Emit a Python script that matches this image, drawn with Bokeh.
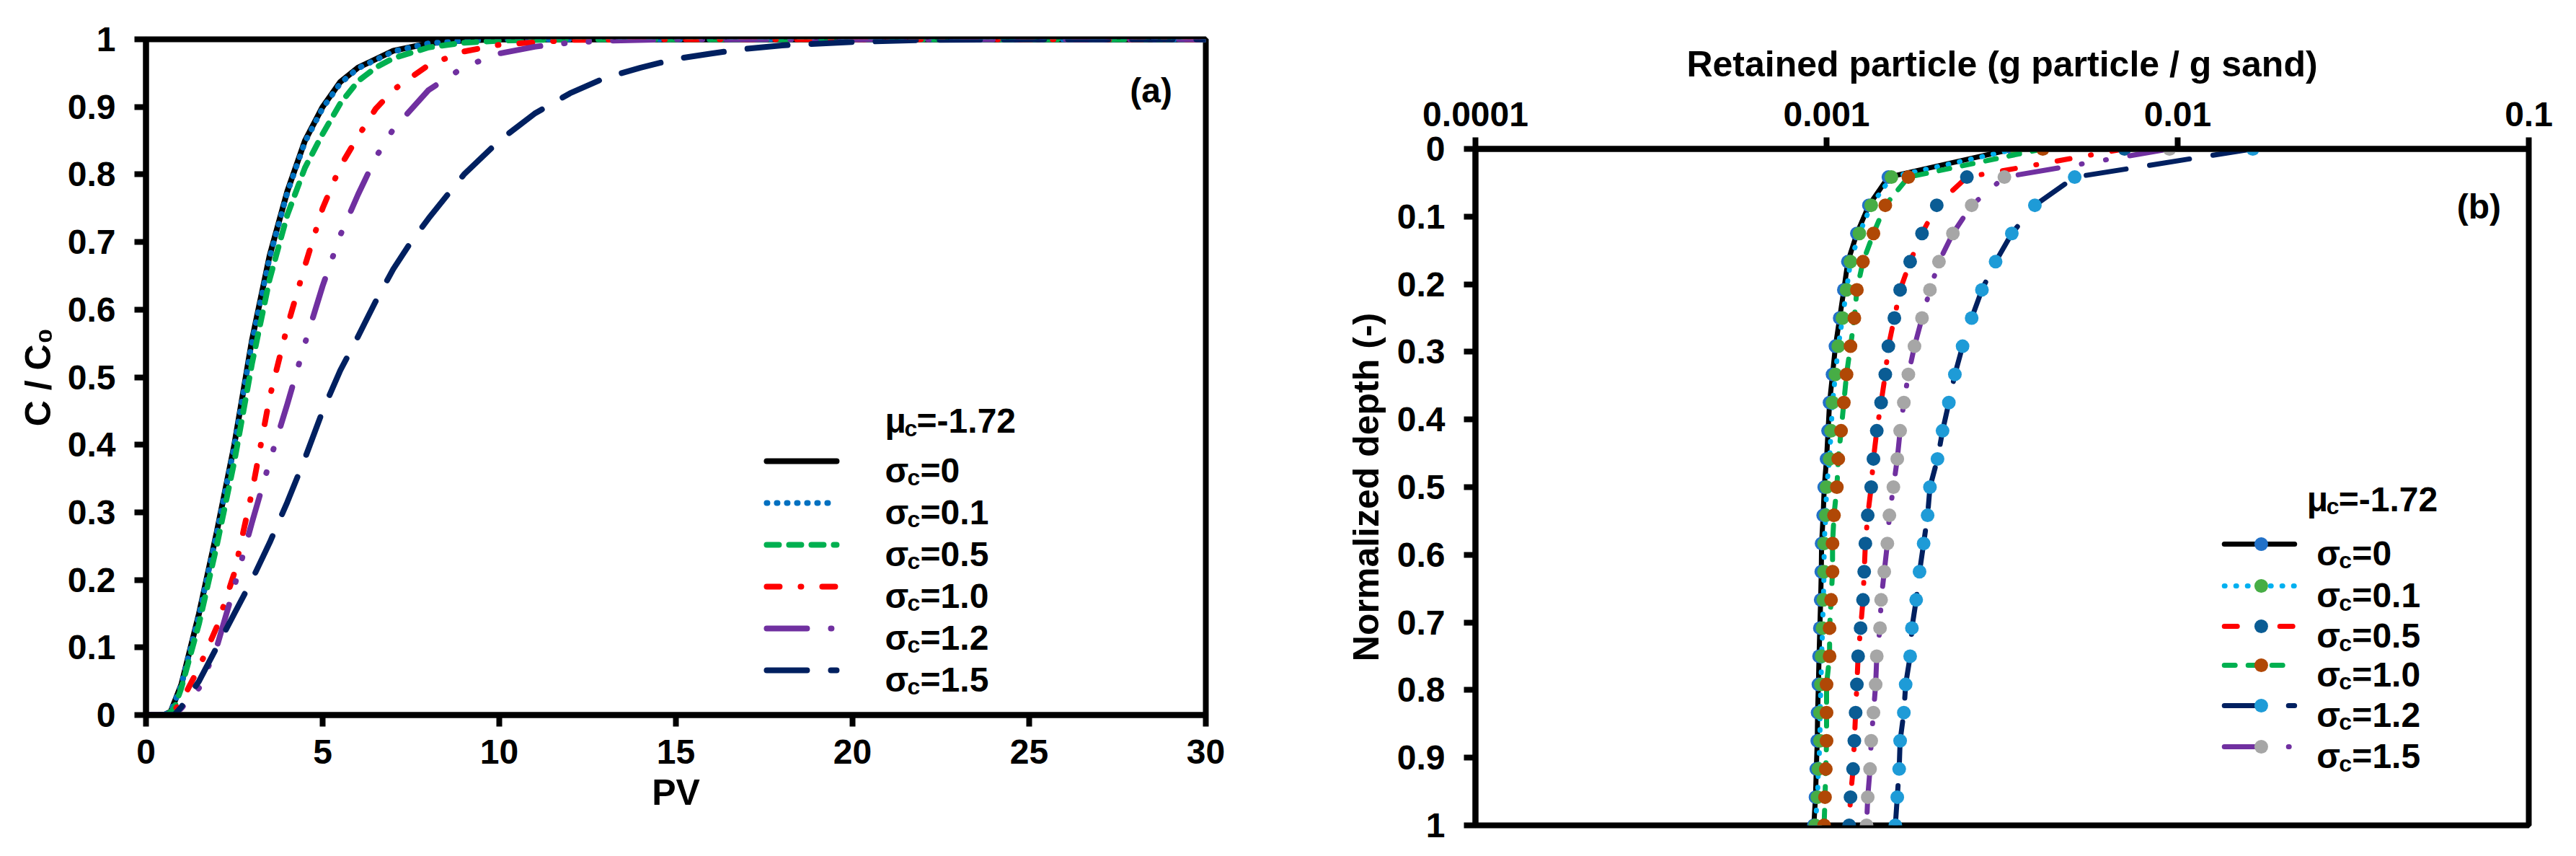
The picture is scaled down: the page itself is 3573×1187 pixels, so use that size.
from bokeh.plotting import figure
from bokeh.models import Range1d, FixedTicker, Label
from bokeh.embed import file_html
from bokeh.resources import INLINE
from bokeh.core.templates import get_env

FONT = "Liberation Sans"

# ---------------- Panel (a): breakthrough curves C/C0 vs PV ----------------
sigma_names = ["0", "0.1", "0.5", "1.0", "1.2", "1.5"]

pv_s00 = [0, 0.5, 0.7, 1.0, 1.5, 2.0, 2.5, 3.0, 3.5, 4.0, 4.5, 5.0, 5.5, 6.0, 7.0, 8.0, 9.0, 10.0, 12.0, 30.0]
c_s00 = [0, 0, 0.005, 0.045, 0.15, 0.27, 0.40, 0.555, 0.68, 0.775, 0.85, 0.90, 0.937, 0.958, 0.983, 0.994, 0.998, 1.0, 1.0, 1.0]

pv_s01 = [0, 0.5, 0.7, 1.0, 1.5, 2.0, 2.5, 3.0, 3.5, 4.0, 4.5, 5.0, 5.5, 6.0, 7.0, 8.0, 9.0, 10.0, 12.0, 30.0]
c_s01 = [0, 0, 0.005, 0.044, 0.148, 0.268, 0.398, 0.552, 0.677, 0.773, 0.848, 0.898, 0.935, 0.957, 0.982, 0.994, 0.998, 1.0, 1.0, 1.0]

pv_s05 = [0, 0.6, 0.8, 1.0, 1.5, 2.0, 2.5, 3.0, 3.5, 4.0, 4.5, 5.0, 5.5, 6.0, 6.5, 7.0, 8.0, 9.0, 10.0, 12.0, 30.0]
c_s05 = [0, 0, 0.01, 0.04, 0.135, 0.25, 0.375, 0.52, 0.645, 0.74, 0.81, 0.86, 0.905, 0.938, 0.958, 0.972, 0.988, 0.995, 0.998, 1.0, 1.0]

pv_s10 = [0, 0.7, 1.0, 1.5, 2.0, 2.5, 3.0, 3.5, 4.0, 4.5, 5.0, 5.5, 6.0, 6.5, 7.0, 8.0, 9.0, 10.0, 12.0, 14.0, 30.0]
c_s10 = [0, 0, 0.02, 0.07, 0.13, 0.21, 0.33, 0.47, 0.575, 0.665, 0.75, 0.812, 0.856, 0.897, 0.925, 0.962, 0.982, 0.992, 0.999, 1.0, 1.0]

pv_s12 = [0, 0.8, 1.0, 1.5, 2.0, 2.5, 3.0, 3.5, 4.0, 4.5, 5.0, 5.5, 6.0, 6.5, 7.0, 8.0, 9.0, 10.0, 11.0, 12.0, 13.0, 15.0, 30.0]
c_s12 = [0, 0, 0.01, 0.04, 0.10, 0.19, 0.285, 0.375, 0.46, 0.55, 0.635, 0.71, 0.77, 0.825, 0.867, 0.925, 0.959, 0.979, 0.989, 0.995, 0.998, 1.0, 1.0]

pv_s15 = [0, 0.8, 1.0, 1.5, 2.0, 2.5, 3.0, 3.5, 4.0, 4.5, 5.0, 5.5, 6.0, 6.5, 7.0, 7.5, 8.0, 9.0, 10.0, 11.0, 12.0, 13.0, 14.0, 15.0, 16.0, 17.0, 18.0, 20.0, 22.0, 25.0, 30.0]
c_s15 = [0, 0, 0.012, 0.05, 0.10, 0.15, 0.20, 0.255, 0.315, 0.38, 0.45, 0.51, 0.56, 0.612, 0.66, 0.70, 0.735, 0.80, 0.85, 0.89, 0.92, 0.943, 0.958, 0.971, 0.979, 0.986, 0.991, 0.996, 0.999, 1.0, 1.0]

pv_a = [pv_s00, pv_s01, pv_s05, pv_s10, pv_s12, pv_s15]
c_a = [c_s00, c_s01, c_s05, c_s10, c_s12, c_s15]
colors_a = ["#000000", "#0070C0", "#00B050", "#FF0000", "#7030A0", "#002060"]
dashes_a = ["solid", "1 13", "17 14", "18 29 1 29", "56 33 1 33 1 33", "56 33"]

x_ticks_a = [0, 5, 10, 15, 20, 25, 30]
y_ticks_a = [0, 0.1, 0.2, 0.3, 0.4, 0.5, 0.6, 0.7, 0.8, 0.9, 1]
y_tick_labels_a = ["0", "0.1", "0.2", "0.3", "0.4", "0.5", "0.6", "0.7", "0.8", "0.9", "1"]

# ---------------- Panel (b): retained particle profiles ----------------
depth_b = [0, 0.0417, 0.0833, 0.125, 0.1667, 0.2083, 0.25, 0.2917, 0.3333, 0.375, 0.4167, 0.4583,
           0.5, 0.5417, 0.5833, 0.625, 0.6667, 0.7083, 0.75, 0.7917, 0.8333, 0.875, 0.9167, 0.9583, 1.0]

ret_s00 = [0.00340, 0.00150, 0.00132, 0.00122, 0.00115, 0.00112, 0.00109, 0.00106, 0.00104, 0.00102,
           0.00101, 0.00100, 0.000985, 0.000978, 0.000968, 0.000966, 0.000962, 0.000957, 0.000952,
           0.000948, 0.000943, 0.000941, 0.000935, 0.000930, 0.000920]
ret_s01 = [0.00347, 0.00153, 0.00134, 0.00124, 0.00117, 0.00114, 0.00111, 0.00108, 0.00106, 0.00104,
           0.00103, 0.00102, 0.00100, 0.000995, 0.000984, 0.000984, 0.000979, 0.000974, 0.000968,
           0.000964, 0.000958, 0.000958, 0.000948, 0.000942, 0.000928]
ret_s05 = [0.00706, 0.00251, 0.00206, 0.00187, 0.00173, 0.00162, 0.00156, 0.00150, 0.00147, 0.00143,
           0.00139, 0.00136, 0.00134, 0.00131, 0.00129, 0.00128, 0.00127, 0.00125, 0.00123, 0.00122,
           0.00121, 0.00120, 0.00119, 0.00117, 0.00116]
ret_s10 = [0.00413, 0.00171, 0.00147, 0.00136, 0.00127, 0.00122, 0.00120, 0.00117, 0.00114, 0.00112,
           0.00110, 0.00108, 0.00107, 0.00105, 0.00104, 0.00104, 0.00103, 0.00102, 0.00102, 0.00100,
           0.00100, 0.00100, 0.000995, 0.000990, 0.000984]
ret_s12 = [0.01637, 0.00509, 0.00392, 0.00337, 0.00303, 0.00277, 0.00259, 0.00244, 0.00232, 0.00223,
           0.00214, 0.00207, 0.00197, 0.00194, 0.00189, 0.00184, 0.00180, 0.00175, 0.00173, 0.00168,
           0.00166, 0.00162, 0.00161, 0.00159, 0.00157]
ret_s15 = [0.00948, 0.00321, 0.00259, 0.00229, 0.00209, 0.00197, 0.00187, 0.00178, 0.00171, 0.00166,
           0.00162, 0.00159, 0.00155, 0.00151, 0.00149, 0.00146, 0.00143, 0.00142, 0.00139, 0.00138,
           0.00136, 0.00134, 0.00133, 0.00131, 0.00130]

ret_b = [ret_s00, ret_s01, ret_s05, ret_s10, ret_s12, ret_s15]
line_colors_b = ["#000000", "#00B0F0", "#FF0000", "#00B050", "#002060", "#7030A0"]
marker_colors_b = ["#2271C8", "#47AD45", "#0A5C94", "#B04806", "#1E9BD7", "#A6A6A6"]
dashes_b = ["solid", "1 15", "18 29 1 29", "15 18", "56 33", "56 33 1 33 1 33"]

x_ticks_b = [0.0001, 0.001, 0.01, 0.1]
x_tick_labels_b = ["0.0001", "0.001", "0.01", "0.1"]
y_ticks_b = [0, 0.1, 0.2, 0.3, 0.4, 0.5, 0.6, 0.7, 0.8, 0.9, 1]
y_tick_labels_b = ["0", "0.1", "0.2", "0.3", "0.4", "0.5", "0.6", "0.7", "0.8", "0.9", "1"]

TICK_PX = "48px"
LAB_PX = "50px"


def style_axis(ax, ticks, labels, label_standoff, axis_standoff):
    ax.ticker = FixedTicker(ticks=ticks, minor_ticks=[])
    ax.major_label_overrides = {t: s for t, s in zip(ticks, labels)}
    ax.axis_line_width = 8
    ax.axis_line_color = "black"
    ax.major_tick_line_width = 8
    ax.major_tick_line_color = "black"
    ax.major_tick_out = 16
    ax.major_tick_in = 0
    ax.minor_tick_line_color = None
    ax.major_label_text_font = FONT
    ax.major_label_text_font_style = "bold"
    ax.major_label_text_font_size = TICK_PX
    ax.major_label_text_color = "black"
    ax.major_label_standoff = label_standoff
    ax.axis_label_text_font = FONT
    ax.axis_label_text_font_style = "bold"
    ax.axis_label_text_font_size = LAB_PX
    ax.axis_label_text_color = "black"
    ax.axis_label_standoff = axis_standoff


def add_label(p, x, y, text, size, dx=0, dy=0, align="left", baseline="alphabetic"):
    p.add_layout(Label(x=x, y=y, text=text, x_offset=dx, y_offset=dy,
                       text_font=FONT, text_font_style="bold", text_font_size=size,
                       text_color="black", text_align=align, text_baseline=baseline))


def add_sub_label(p, x, y, main, rest, dx_sub, dx_rest, dy=-13):
    add_label(p, x, y, main, "48px", 0, dy)
    add_label(p, x, y, "c", "32px", dx_sub, dy - 10)
    add_label(p, x, y, rest, "48px", dx_rest, dy)


# ---------------- figure (a) ----------------
pa = figure(width=1708, height=1179, output_backend="svg", toolbar_location=None,
            x_range=Range1d(0, 30), y_range=Range1d(0, 1),
            min_border_left=202, min_border_right=36, min_border_top=54, min_border_bottom=188)
pa.grid.visible = False
pa.outline_line_color = "black"
pa.outline_line_width = 8
pa.outline_line_alpha = 1.0
pa.background_fill_color = "white"
pa.border_fill_color = "white"
pa.xaxis.axis_label = "PV"
pa.yaxis.axis_label = "C / C\u2080"
style_axis(pa.xaxis[0], x_ticks_a, [str(t) for t in x_ticks_a], 18, 9)
style_axis(pa.yaxis[0], y_ticks_a, y_tick_labels_a, 26, 10)

for xs, ys, col, dash in zip(pv_a, c_a, colors_a, dashes_a):
    pa.line(xs, ys, line_color=col, line_width=8, line_dash=dash, line_cap="round", line_join="round")

# legend (a)
leg_a_x0, leg_a_x1, leg_a_xt = 17.57, 19.55, 20.92
leg_a_rows = [0.3757, 0.3138, 0.2519, 0.1900, 0.1281, 0.0662]
add_sub_label(pa, leg_a_xt, 0.4354, "\u03bc", "=-1.72", 27, 44, dy=0)
for yy, name, col, dash in zip(leg_a_rows, sigma_names, colors_a, dashes_a):
    pa.line([leg_a_x0, leg_a_x1], [yy, yy], line_color=col, line_width=8, line_dash=dash, line_cap="round")
    add_sub_label(pa, leg_a_xt, yy, "\u03c3", "=" + name, 31, 49)

add_label(pa, 28.45, 0.924, "(a)", "48px", 0, 0, align="center", baseline="middle")

# ---------------- figure (b) ----------------
pb = figure(width=1857, height=1179, output_backend="svg", toolbar_location=None,
            x_axis_type="log", x_axis_location="above",
            x_range=Range1d(0.0001, 0.1), y_range=Range1d(1, 0),
            min_border_left=338, min_border_right=58, min_border_top=206, min_border_bottom=35)
pb.grid.visible = False
pb.outline_line_color = "black"
pb.outline_line_width = 8
pb.background_fill_color = "white"
pb.border_fill_color = "white"
pb.xaxis.axis_label = "Retained particle (g particle / g sand)"
pb.yaxis.axis_label = "Normalized depth (-)"
style_axis(pb.xaxis[0], x_ticks_b, x_tick_labels_b, 16, 22)
style_axis(pb.yaxis[0], y_ticks_b, y_tick_labels_b, 26, 12)

for xs, lc, mc, dash in zip(ret_b, line_colors_b, marker_colors_b, dashes_b):
    pb.line(xs, depth_b, line_color=lc, line_width=7, line_dash=dash, line_cap="round", line_join="round")
    pb.scatter(xs, depth_b, size=19, fill_color=mc, line_color=None)

# legend (b)
leg_b_x0, leg_b_x1, leg_b_xm, leg_b_xt, leg_b_xmu = 0.01358, 0.02153, 0.01730, 0.02489, 0.02333
leg_b_rows = [0.5842, 0.6461, 0.7058, 0.7633, 0.8230, 0.8838]
add_sub_label(pb, leg_b_xmu, 0.5181, "\u03bc", "=-1.72", 27, 44, dy=0)
for yy, name, lc, mc, dash in zip(leg_b_rows, sigma_names, line_colors_b, marker_colors_b, dashes_b):
    pb.line([leg_b_x0, leg_b_x1], [yy, yy], line_color=lc, line_width=7, line_dash=dash, line_cap="round")
    pb.scatter([leg_b_xm], [yy], size=19, fill_color=mc, line_color=None)
    add_sub_label(pb, leg_b_xt, yy, "\u03c3", "=" + name, 31, 49)

add_label(pb, 0.0721, 0.085, "(b)", "48px", 0, 0, align="center", baseline="middle")

# side-by-side placement without frame alignment between the two panels
PAGE = """
{% block contents %}
{% from macros import embed %}
<div style="display: flex; flex-direction: row; align-items: flex-start;">
{% for doc in docs %}{% for root in doc.roots %}
{{ embed(root) }}
{% endfor %}{% endfor %}
</div>
{% endblock %}
"""
template = get_env().from_string("{% extends base %}\n" + PAGE)

open("out.html", "w").write(file_html([pa, pb], INLINE, template=template))
